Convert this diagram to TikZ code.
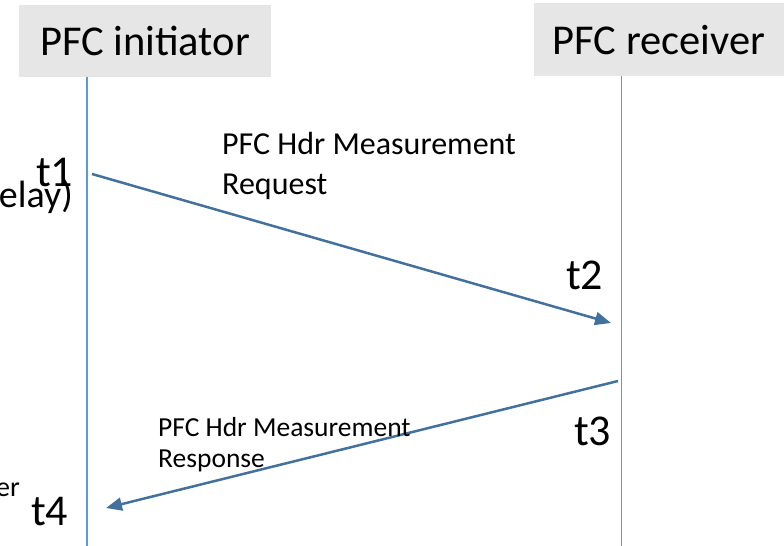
\documentclass[tikz,border=0pt]{standalone}
\usepackage{fontspec}
\setmainfont{Carlito}
\usetikzlibrary{arrows.meta}
\definecolor{lifeblue}{RGB}{91,155,213}
\definecolor{msgblue}{RGB}{65,113,156}
\definecolor{hdrgray}{RGB}{230,230,230}
\begin{document}
\begin{tikzpicture}[x=1bp,y=-1bp,
  header/.style={fill=hdrgray, draw=none, inner sep=0pt,
    font=\fontsize{42.5bp}{50bp}\selectfont},
  lifeline/.style={draw=lifeblue, line width=1.5bp},
  msg/.style={draw=msgblue, line width=2.5bp,
    -{Triangle[length=16bp,width=13bp]}},
  stamp/.style={inner sep=0pt, font=\fontsize{44bp}{52bp}\selectfont},
  msglabel/.style={inner sep=0pt, align=left}]
\useasboundingbox (0,0) rectangle (784,546);
\clip (0,0) rectangle (784,546);

% participant headers
\node[header, minimum width=252bp, minimum height=72bp] (init) at (145,41) {PFC initiator};
\node[header, minimum width=250bp, minimum height=73bp] (recv) at (659,40) {PFC receiver};

% lifelines
\coordinate (initTop) at (87,77);
\coordinate (initBot) at (87,546);
\coordinate (recvTop) at (621.7,76);
\coordinate (recvBot) at (621.7,546);
\draw[lifeline] (initTop) -- (initBot);
\draw[lifeline] (recvTop) -- (recvBot);

% message end points
\coordinate (reqStart) at (92,174);
\coordinate (reqEnd) at (611,323);
\coordinate (rspStart) at (618,381);
\coordinate (rspEnd) at (106,508);
\draw[msg] (reqStart) -- (reqEnd);
\draw[msg] (rspStart) -- (rspEnd);

% message labels (base anchor sits on the last line)
\node[msglabel, anchor=base west, font=\fontsize{32bp}{40bp}\selectfont] (reqLabel) at (222,195)
  {PFC Hdr Measurement\\Request};
\node[msglabel, anchor=base west, font=\fontsize{27.5bp}{31bp}\selectfont] (rspLabel) at (158,467)
  {PFC Hdr Measurement\\Response};

% timestamps
\node[stamp, anchor=base west] (t1) at (36,187) {t1};
\node[stamp, anchor=base west] (t2) at (566,290) {t2};
\node[stamp, anchor=base west] (t3) at (574,445) {t3};
\node[stamp, anchor=base west] (t4) at (31,525) {t4};

% side notes running off the left edge
\node[inner sep=0pt, anchor=base east, font=\fontsize{38bp}{46bp}\selectfont] (delayNote) at (73,208) {elay)};
\node[inner sep=0pt, anchor=base east, font=\fontsize{28bp}{34bp}\selectfont] (timerNote) at (20,496) {er};
\end{tikzpicture}
\end{document}
